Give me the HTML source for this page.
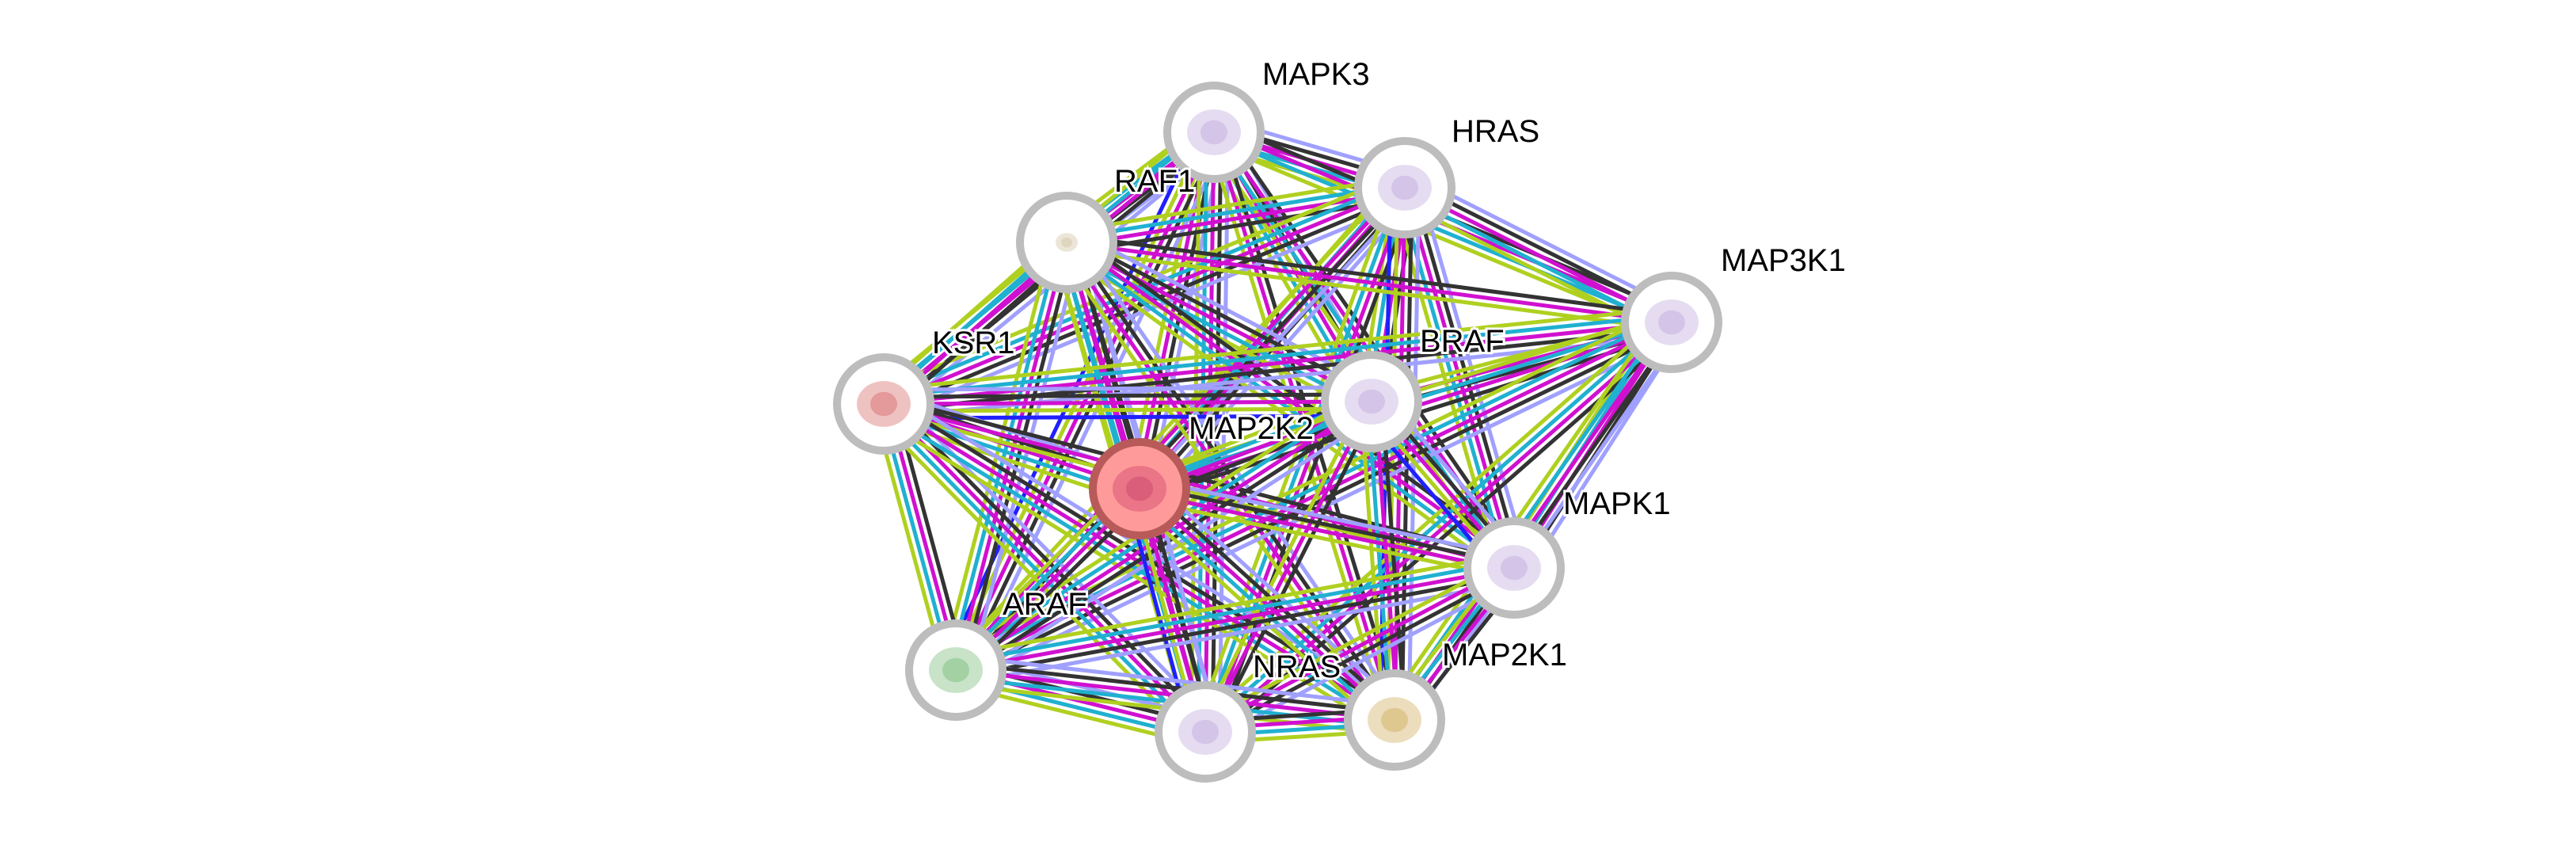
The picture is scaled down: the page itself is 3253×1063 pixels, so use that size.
<!DOCTYPE html>
<html><head><meta charset="utf-8"><style>
html,body{margin:0;padding:0;background:#fff;}
svg{display:block;}
text{font-family:"Liberation Sans",sans-serif;font-size:40px;fill:#000;stroke:#fff;stroke-width:6px;paint-order:stroke;}
</style></head><body>
<svg id="s" width="3253" height="1063" viewBox="0 0 3253 1063" xmlns="http://www.w3.org/2000/svg">
<g id="edges"></g>
<g id="nodes"></g>
<g id="labels">
<text x="1594" y="107">MAPK3</text>
<text x="1833" y="179">HRAS</text>
<text x="1407" y="242">RAF1</text>
<text x="2173" y="342">MAP3K1</text>
<text x="1177" y="446">KSR1</text>
<text x="1793" y="444">BRAF</text>
<text x="1501" y="554">MAP2K2</text>
<text x="1974" y="649">MAPK1</text>
<text x="1266" y="776">ARAF</text>
<text x="1582" y="855">NRAS</text>
<text x="1821" y="840">MAP2K1</text>
</g>
</svg>
<script>
var N={MAPK3:[1533,167],HRAS:[1774,237],RAF1:[1347,306],MAP3K1:[2111,407],KSR1:[1116,510],BRAF:[1732,507],MAP2K2:[1439,617],MAPK1:[1912,717],ARAF:[1207,846],NRAS:[1522,924],MAP2K1:[1761,909]};
var col={MAPK3:'#b49ad8',HRAS:'#b49ad8',RAF1:'#c8b890',MAP3K1:'#b49ad8',KSR1:'#d05050',BRAF:'#b49ad8',MAP2K2:'#c03060',MAPK1:'#b49ad8',ARAF:'#60b060',NRAS:'#b49ad8',MAP2K1:'#c8a040'};
var C=['#a0a0ff','#333','#d010d0','#20b0d0','#b0d020','#2020ff'];
var names=Object.keys(N),E=document.getElementById('edges'),h='';
for(var i=0;i<names.length;i++)for(var j=i+1;j<names.length;j++){
 var a=N[names[i]],b=N[names[j]];
 var set=[];var seed=(i*7+j*13)%11;
 if(seed%3!=0)set.push(C[0]);
 set.push(C[1]);set.push(C[2]);
 if(seed%4!=1)set.push(C[3]);
 set.push(C[4]);
 if(seed==5)set.push(C[5]);
 var dx=b[0]-a[0],dy=b[1]-a[1],L=Math.hypot(dx,dy),px=-dy/L,py=dx/L,n=set.length;
 for(var t=0;t<n;t++){var o=(t-(n-1)/2)*9;
  h+='<line x1="'+(a[0]+px*o)+'" y1="'+(a[1]+py*o)+'" x2="'+(b[0]+px*o)+'" y2="'+(b[1]+py*o)+'" stroke="'+set[t]+'" stroke-width="5"/>';}
}
E.innerHTML=h;
var g='';
for(var q in N){var p=N[q];
 var r=(q=='RAF1')?14:34;
 if(q=='MAP2K2') g+='<circle cx="'+p[0]+'" cy="'+p[1]+'" r="59" fill="#ff9a9a" stroke="#b85a5a" stroke-width="10"/>';
 else g+='<circle cx="'+p[0]+'" cy="'+p[1]+'" r="59" fill="#fff" stroke="#bdbdbd" stroke-width="10"/>';
 g+='<ellipse cx="'+p[0]+'" cy="'+p[1]+'" rx="'+r+'" ry="'+(r*0.85)+'" fill="'+col[q]+'" opacity="0.35"/>';
 g+='<ellipse cx="'+p[0]+'" cy="'+p[1]+'" rx="'+(r*0.5)+'" ry="'+(r*0.45)+'" fill="'+col[q]+'" opacity="0.35"/>';
}
document.getElementById('nodes').innerHTML=g;
</script>
</body></html>
